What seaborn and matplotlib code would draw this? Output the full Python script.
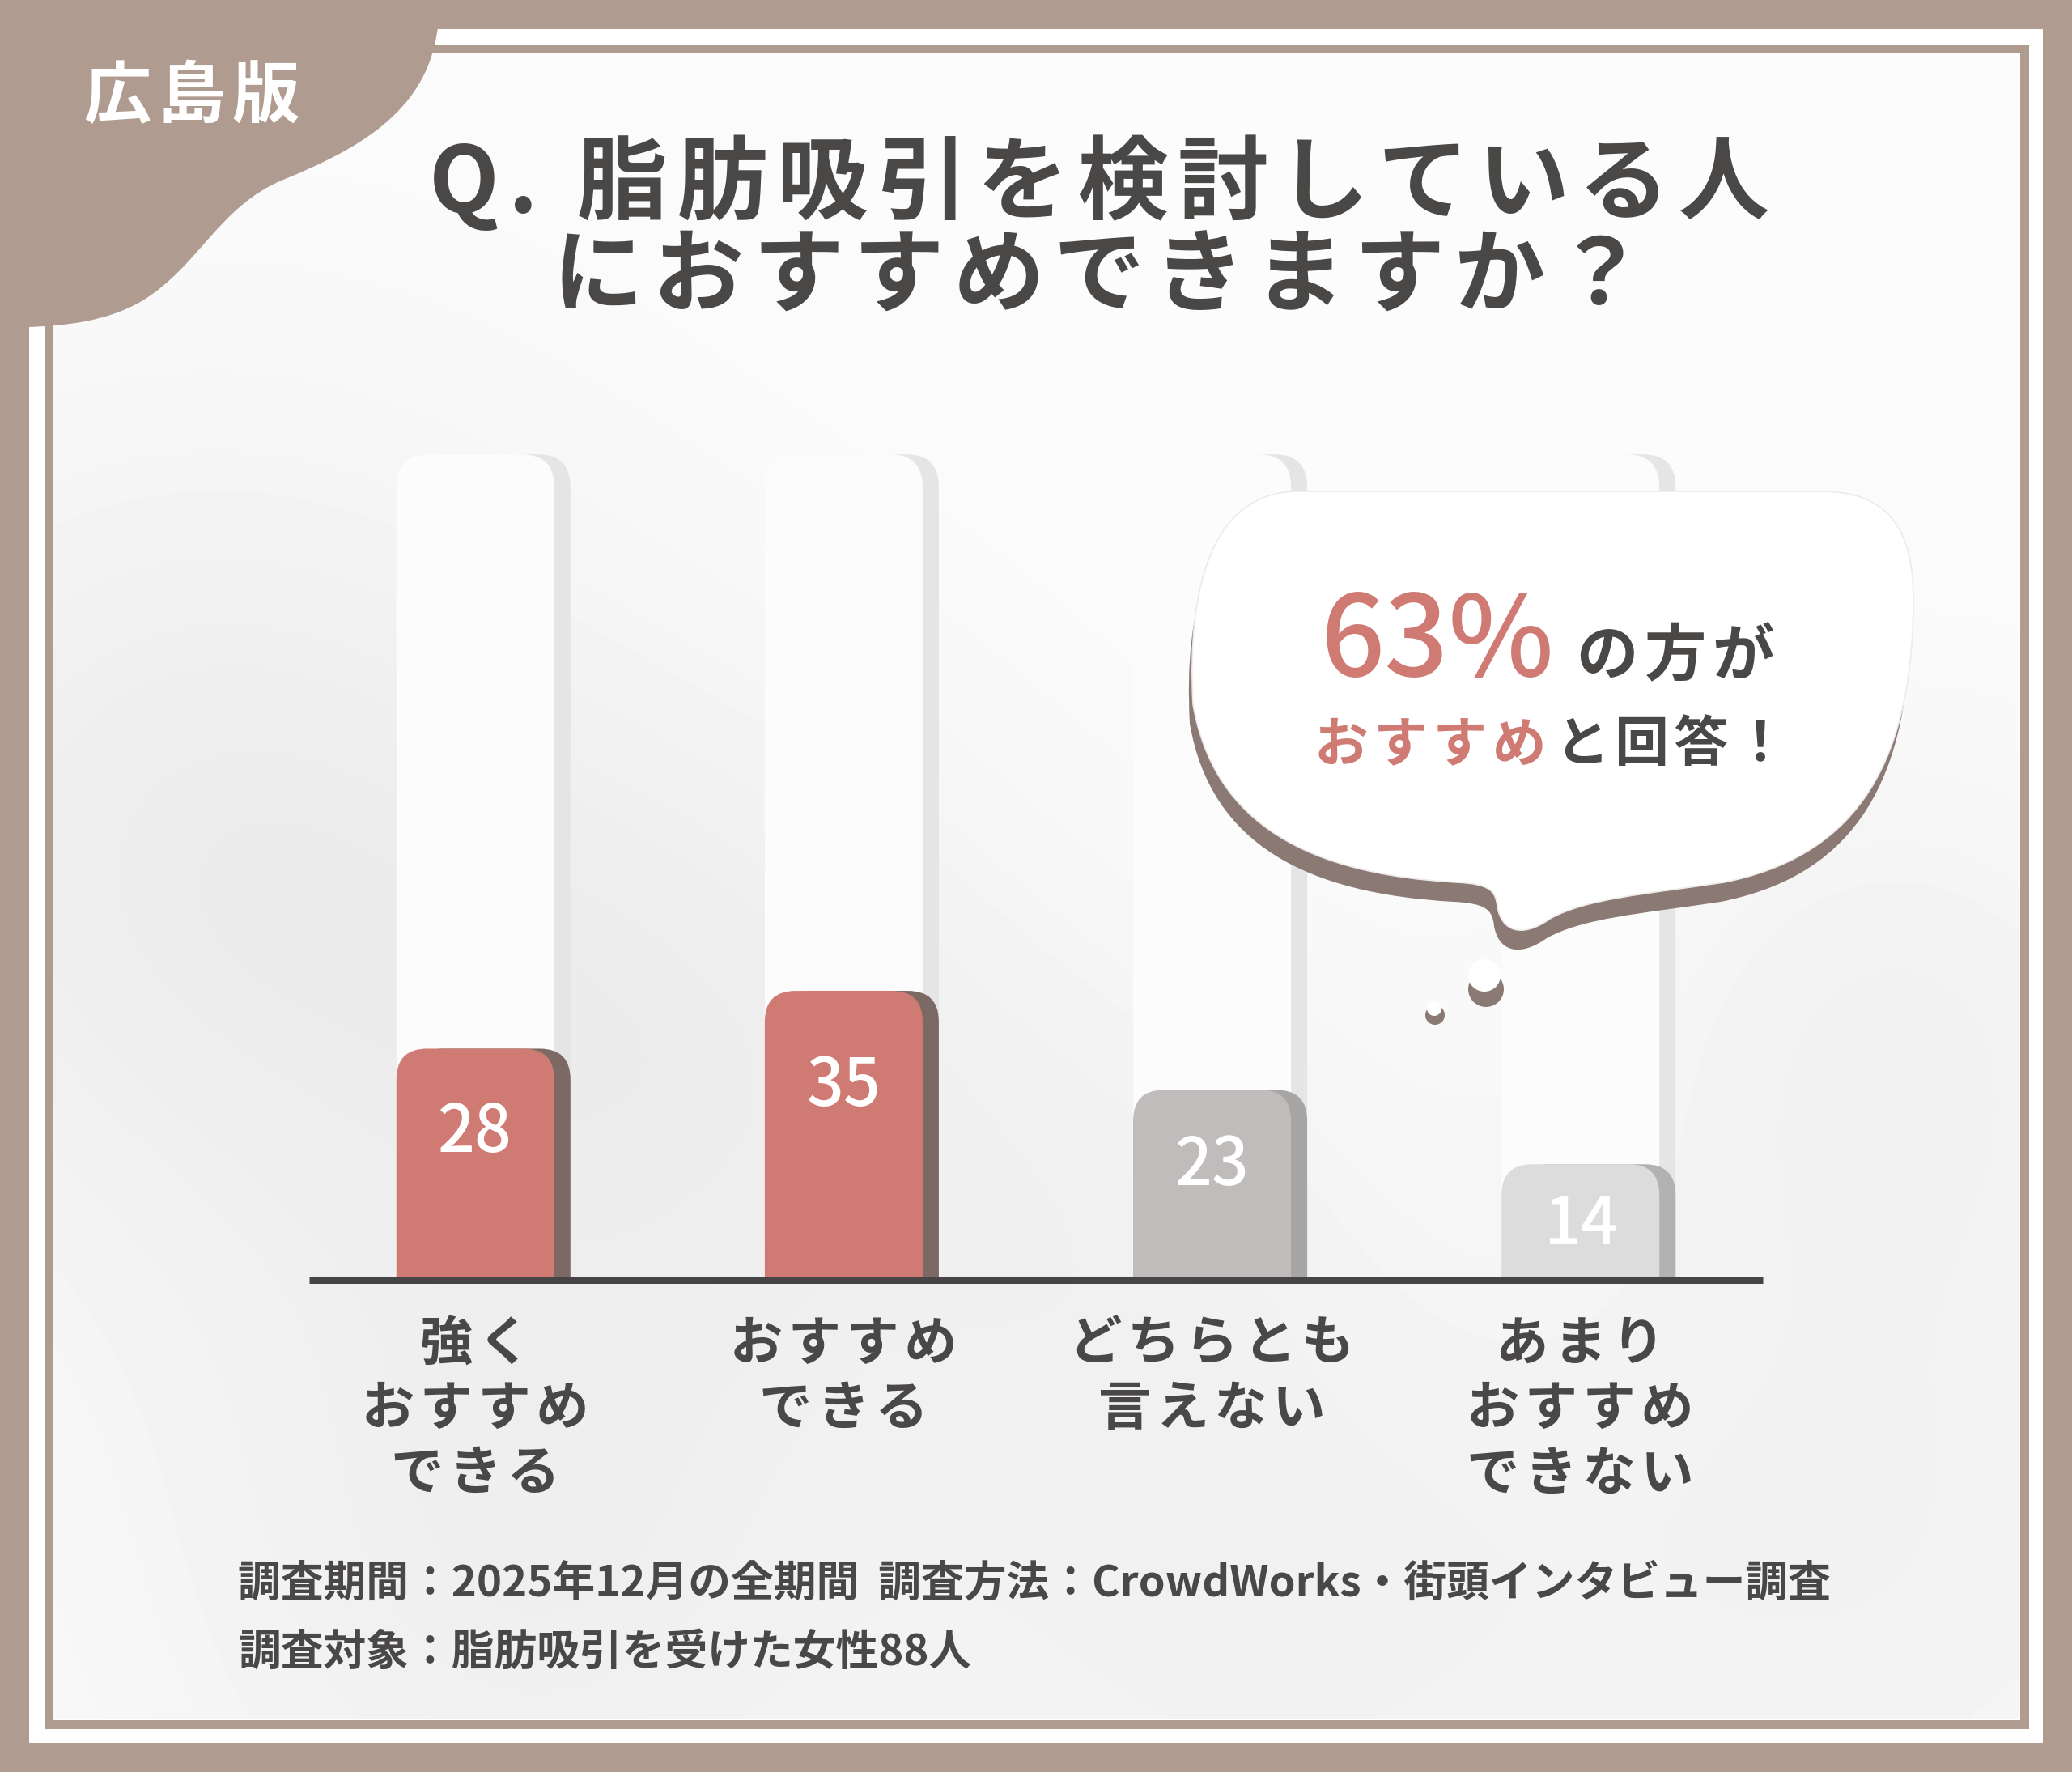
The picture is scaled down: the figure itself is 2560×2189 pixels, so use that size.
import numpy as np
import matplotlib.pyplot as plt
import seaborn as sns
from matplotlib.patches import FancyBboxPatch, PathPatch, Rectangle, Circle
from matplotlib.path import Path

# data
categories = ['強く\nおすすめ\nできる', 'おすすめ\nできる', 'どちらとも\n言えない', 'あまり\nおすすめ\nできない']
values = [28, 35, 23, 14]
scale_max = 100
title_lines = ['Q. 脂肪吸引を検討している人', 'におすすめできますか？']
badge = '広島版'
share_big = '63%'
share_rest = 'の方が'
share_red = 'おすすめ'
share_dark = 'と回答！'
footer_lines = ['調査期間：2025年12月の全期間  調査方法：CrowdWorks・街頭インタビュー調査',
                '調査対象：脂肪吸引を受けた女性88人']

# styles
brown = '#b09b91'
dark = '#4a4747'
red = '#cf7b74'
bar_colors = ['#cf7b74', '#cf7b74', '#bfbcbb', '#dddcdc']
side_colors = ['#7c6963', '#7c6963', '#a8a6a5', '#b3b2b2']
bubble_shadow = '#8b7a74'
HAIR = '\u200a'


def spaced(s):
    # wide letter spacing: hair space between characters (falls back to DejaVu Sans)
    return '\n'.join(HAIR.join(line) for line in s.split('\n'))


sns.set_theme(style='white')
plt.rcParams['font.family'] = ['Noto Sans CJK JP', 'DejaVu Sans']

W, H = 2560, 2189
fig = plt.figure(figsize=(W / 100, H / 100), dpi=100, facecolor=brown)

# ---- background / frame
bg = fig.add_axes([0, 0, 1, 1])
bg.set_xlim(0, W)
bg.set_ylim(H, 0)
bg.axis('off')
bg.add_patch(Rectangle((36, 36), 2488, 2117, facecolor='white', edgecolor='none'))
bg.add_patch(Rectangle((59.5, 59.5), 2441, 2070, facecolor='none', edgecolor=brown, lw=11 * 0.72))

# soft shaded background inside the frame
gx, gy = np.meshgrid(np.linspace(65, 2495, 240), np.linspace(65, 2124, 200))
shade = np.full(gx.shape, 0.985)
for cx, cy, s, a in [(250, 1050, 380, 0.055), (900, 1250, 300, 0.035), (650, 1950, 380, 0.045),
                     (2300, 1900, 380, 0.035), (1400, 1500, 260, 0.025), (1550, 2050, 300, 0.03),
                     (2350, 1250, 250, 0.03)]:
    shade -= a * np.exp(-((gx - cx) ** 2 + (gy - cy) ** 2) / (2 * s ** 2))
bg.imshow(shade, extent=(65, 2495, 2124, 65), cmap='gray', vmin=0, vmax=1,
          aspect='auto', interpolation='bicubic', zorder=1)

# top-left corner blob
blob = Path([(0, 0), (548, 0), (540, 40),
             (525, 140), (440, 185), (350, 222),
             (270, 255), (245, 330), (175, 372),
             (130, 398), (80, 402), (36, 404),
             (0, 404), (0, 0)],
            [Path.MOVETO, Path.LINETO, Path.LINETO,
             Path.CURVE4, Path.CURVE4, Path.CURVE4,
             Path.CURVE4, Path.CURVE4, Path.CURVE4,
             Path.CURVE4, Path.CURVE4, Path.CURVE4,
             Path.LINETO, Path.CLOSEPOLY])
bg.add_patch(PathPatch(blob, facecolor=brown, edgecolor='none', zorder=3))
bg.text(237, 120, spaced(badge), color='white', fontsize=60, fontweight='bold',
        ha='center', va='center', zorder=4)

bg.text(1358, 284, spaced('\n'.join(title_lines)), color=dark, fontsize=81, fontweight='bold',
        ha='center', va='center', linespacing=1.0, zorder=4)

for i, line in enumerate(footer_lines):
    bg.text(294, 1956 + i * 85, line, color=dark, fontsize=38, fontweight='bold',
            ha='left', va='center', zorder=4)

# ---- chart
x0, x1, ybase, ytop = 382, 2178, 1581, 500
ax = fig.add_axes([x0 / W, (H - ybase) / H, (x1 - x0) / W, (ybase - ytop) / H])
ax.set_facecolor('none')
bar_w = 0.4285
sns.barplot(x=categories, y=values, hue=categories, palette=bar_colors,
            legend=False, width=bar_w, ax=ax)
ax.set_xlim(-0.451, 3.495)
ax.set_ylim(0, 106)
sns.despine(ax=ax, left=True, bottom=True)
ax.set_yticks([])
ax.set_xlabel('')
ax.set_ylabel('')
ax.tick_params(axis='x', length=0, pad=33)
ax.set_xticks(range(len(categories)))
ax.set_xticklabels([spaced(c) for c in categories], fontsize=47, fontweight='bold',
                   color=dark, linespacing=1.25)

px_x = (x1 - x0) / (3.495 + 0.451)
px_y = (ybase - ytop) / 106
asp = px_x / px_y
side = 20 / px_x


def rounded(x, w, h, color, r_px, z):
    p = FancyBboxPatch((x, -6), w, h + 6,
                       boxstyle=f'round,pad=0,rounding_size={r_px / px_x}',
                       mutation_aspect=asp, facecolor=color, edgecolor='none', zorder=z)
    ax.add_patch(p)
    return p


bars = list(ax.patches)
for i, b in enumerate(bars):
    bx, bw, bh = b.get_x(), b.get_width(), b.get_height()
    b.set_visible(False)
    # background pillar
    rounded(bx + side, bw, scale_max, '#e5e5e5', 40, 0.6)
    rounded(bx, bw, scale_max, '#fcfcfc', 40, 0.7)
    # the bar with its side
    rounded(bx + side, bw, bh, side_colors[i], 38, 2)
    rounded(bx, bw, bh, bar_colors[i], 38, 3)
    ax.text(bx + bw / 2, bh * 0.8 - 4.6, str(values[i]), color='white', fontsize=58,
            fontweight='medium', ha='center', va='center', zorder=4)

ax.axhline(0, color='#464444', lw=9 * 0.72, zorder=5, clip_on=False, solid_capstyle='butt')

# ---- speech bubble on top
top = fig.add_axes([0, 0, 1, 1])
top.set_facecolor('none')
top.set_xlim(0, W)
top.set_ylim(H, 0)
top.axis('off')

verts = [(1600, 607), (2250, 607),
         (2330, 607), (2364, 650), (2364, 740),
         (2364, 960), (2280, 1060), (2130, 1090),
         (2030, 1105), (1960, 1110), (1915, 1135),
         (1880, 1160), (1855, 1150), (1850, 1120),
         (1848, 1100), (1840, 1092), (1800, 1090),
         (1620, 1080), (1500, 1020), (1474, 870),
         (1466, 720), (1500, 610), (1600, 607),
         (1600, 607)]
codes = [Path.MOVETO, Path.LINETO] + [Path.CURVE4] * 21 + [Path.CLOSEPOLY]
shadow_verts = [(vx - 4, vy + 24) for vx, vy in verts]
top.add_patch(PathPatch(Path(shadow_verts, codes), facecolor=bubble_shadow, edgecolor='none', zorder=1))
top.add_patch(PathPatch(Path(verts, codes), facecolor='white', edgecolor='#eeeae9', lw=1.2, zorder=2))

top.add_patch(Circle((1836, 1222), 22, facecolor=bubble_shadow, edgecolor='none', zorder=1))
top.add_patch(Circle((1834, 1205), 20, facecolor='white', edgecolor='none', zorder=2))
top.add_patch(Circle((1773, 1254), 12, facecolor=bubble_shadow, edgecolor='none', zorder=1))
top.add_patch(Circle((1772, 1246), 9, facecolor='white', edgecolor='none', zorder=2))

top.text(1920, 835, share_big, color=red, fontsize=100, fontweight='medium',
         ha='right', va='baseline', zorder=3)
top.text(1948, 834, spaced(share_rest), color=dark, fontsize=55, fontweight='bold',
         ha='left', va='baseline', zorder=3)
top.text(1910, 940, spaced(share_red), color=red, fontsize=48, fontweight='bold',
         ha='right', va='baseline', zorder=3)
top.text(1922, 940, spaced(share_dark), color=dark, fontsize=48, fontweight='bold',
         ha='left', va='baseline', zorder=3)

fig.savefig('out.png', dpi=100, facecolor=brown)
